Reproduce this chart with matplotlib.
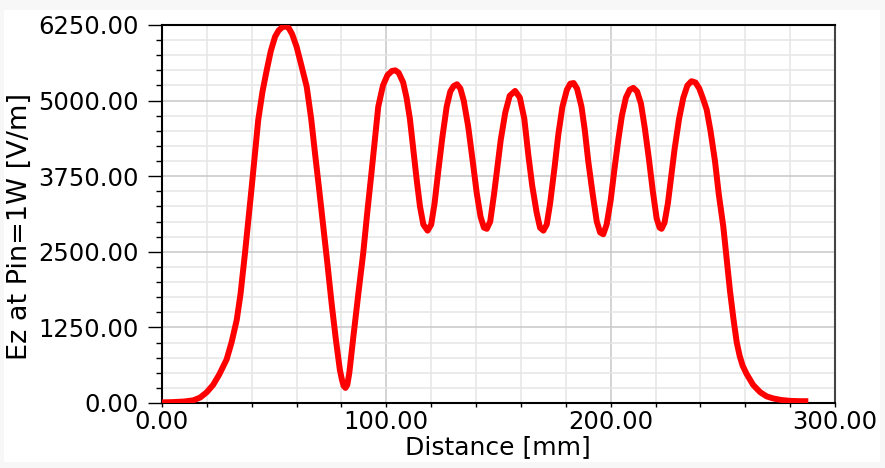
import matplotlib
matplotlib.use("Agg")
import matplotlib.pyplot as plt
from matplotlib.patches import Rectangle
from matplotlib.ticker import MultipleLocator, FormatStrFormatter

# field profile
distance = [0, 5, 10, 14, 17, 20, 22.8, 25.5, 28.8, 31, 33.3, 35, 37, 40, 42.9,
            44.8, 46.7, 48.5, 50.4, 52, 53.5, 55, 56.5, 58, 60, 62, 64.5, 66.5,
            68.2, 70, 71.9, 73.8, 75.6, 77.5, 79.3, 80.3, 81, 81.8, 82.6, 83.5,
            85.3, 87.5, 89.7, 91.5, 93.5, 96.4, 98.5, 100.5, 102.5, 104, 105.5,
            107.5, 109, 110.5, 112, 113.5, 115, 116.5, 118.4, 120, 121.5, 123.2,
            125, 126.9, 128.5, 130, 131.5, 133, 134.5, 136.5, 138.5, 140.3, 142,
            143.5, 144.8, 146.3, 148, 149.5, 151, 153, 155, 157.4, 159.5, 161.5,
            163.3, 165, 167, 168.5, 170, 171.5, 173, 175, 176.7, 178.5, 180.5,
            182, 183.5, 185, 187, 188.5, 190, 192, 193.8, 195.3, 196.7, 198.2,
            200, 201.8, 203.4, 205, 206.8, 208.5, 210.1, 211.8, 213.5, 215.2,
            217, 218.8, 220.5, 221.8, 222.7, 224, 225.5, 227, 228.5, 230.5,
            232.4, 234.2, 236, 237.8, 239.5, 241, 242.8, 244.5, 246.5, 248.2,
            250.2, 251.8, 253.2, 254.7, 256.2, 257.5, 258.8, 260.6, 263.5, 266.6,
            269.5, 272.5, 276, 280, 284, 288.1]
ez = [10, 15, 25, 45, 90, 180, 300, 470, 720, 1000, 1370, 1800, 2480, 3577, 4680,
      5150, 5506, 5820, 6057, 6160, 6210, 6230, 6200, 6100, 5890, 5600, 5230, 4700,
      4130, 3550, 2915, 2280, 1650, 1050, 545, 370, 280, 250, 300, 500,
      1096, 1800, 2480, 3150, 3850, 4900, 5250, 5420, 5490, 5500, 5460,
      5300, 5050, 4700, 4200, 3700, 3250, 2950, 2850, 2950, 3300, 3850,
      4400, 4900, 5150, 5240, 5270, 5200, 5000, 4570, 4000, 3470, 3080,
      2900, 2880, 3000, 3450, 3900, 4350, 4800, 5080, 5160, 5050, 4700,
      4100, 3600, 3150, 2900, 2850, 2950, 3300, 3900, 4450, 4900, 5180,
      5280, 5290, 5200, 4900, 4500, 4000, 3450, 3000, 2820, 2790, 2950,
      3350, 3900, 4350, 4750, 5050, 5180, 5210, 5150, 4950, 4550,
      4050, 3500, 3050, 2900, 2880, 2980, 3300, 3750, 4200, 4700,
      5050, 5250, 5320, 5300, 5200, 5050, 4850, 4500, 4000, 3450,
      2920, 2350, 1850, 1400, 1000, 780, 620, 480, 300, 180,
      110, 75, 50, 35, 30, 30]

fig = plt.figure(figsize=(8.85, 4.68), dpi=100, facecolor="#f7f7f7")
fig.patches.append(Rectangle((4 / 885, 1 - 462 / 468), 876 / 885, 452 / 468,
                             transform=fig.transFigure, facecolor="white",
                             edgecolor="none", zorder=-5))

ax = fig.add_axes([162 / 885, 1 - 403 / 468, 673 / 885, 378 / 468])
ax.set_facecolor("white")

ax.plot(distance, ez, color="red", linewidth=4.3, solid_joinstyle="round",
        solid_capstyle="butt", zorder=3)

ax.set_xlim(0, 300)
ax.set_ylim(0, 6250)

ax.xaxis.set_major_locator(MultipleLocator(100))
ax.xaxis.set_minor_locator(MultipleLocator(20))
ax.yaxis.set_major_locator(MultipleLocator(1250))
ax.yaxis.set_minor_locator(MultipleLocator(250))
ax.xaxis.set_major_formatter(FormatStrFormatter("%.2f"))
ax.yaxis.set_major_formatter(FormatStrFormatter("%.2f"))

ax.grid(which="minor", color="#e6e6e6", linewidth=1.1)
ax.grid(which="major", color="#c8c8c8", linewidth=1.1)
ax.set_axisbelow(True)

ax.tick_params(axis="x", which="both", direction="out", length=3, width=1,
               pad=2, labelsize=17.5)
ax.tick_params(axis="y", which="major", direction="out", length=10, width=1,
               pad=7, labelsize=17.5)
ax.tick_params(axis="y", which="minor", direction="out", length=4.3, width=1)

for side in ["top", "left", "bottom"]:
    ax.spines[side].set_color("black")
    ax.spines[side].set_linewidth(1.5)
ax.spines["right"].set_color("#444444")
ax.spines["right"].set_linewidth(1.5)

fig.text(498 / 885, 1 - 454 / 468, "Distance [mm]", ha="center", va="baseline",
         fontsize=18)
fig.text(20 / 885, 1 - 226 / 468, "Ez at Pin=1W [V/m]", ha="center", va="center",
         rotation=90, fontsize=19.5)

fig.savefig("out.png", dpi=100, facecolor=fig.get_facecolor())
